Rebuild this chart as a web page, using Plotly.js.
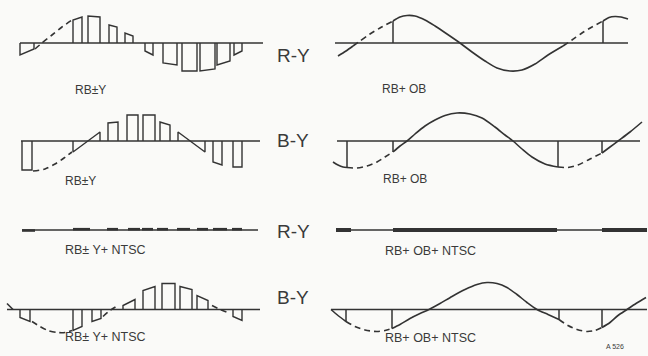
<!DOCTYPE html>
<html><head><meta charset="utf-8">
<script src="https://cdn.plot.ly/plotly-3.0.1.min.js"></script>
<style>html,body{margin:0;padding:0;background:#fafaf8;}#chart{width:648px;height:356px;}</style>
</head><body><div id="chart"></div>
<script>
// ---------- Row 1 left : R-Y, RB±Y ----------
var p1Base = [20, 263];
var p1BarStart = [20, 73, 88, 109, 125, 145, 163, 182, 200, 217, 234];
var p1BarEnd   = [34, 82, 100, 117, 133, 153, 177, 197, 215, 230, 242];
var p1BarLeft  = [-12, 23, 27, 18, 10, -8, -20, -28, -28, -22, -12];
var p1BarRight = [-6, 26, 26, 16, 7, -12, -22, -28, -26, -18, -8];
var p1DashX = [35, 42, 52, 62, 72];
var p1DashY = [-6, 0, 8, 16, 23];

// ---------- Row 1 right : R-Y, RB+OB ----------
var p2Base = [335, 628];
var p2SolidAX = [338, 346, 353];
var p2SolidAY = [-13, -8, -3];
var p2DashAX = [353, 360, 370, 380, 393];
var p2DashAY = [-3, 2, 9, 15, 22];
var p2SolidBX = [393, 400, 407, 415, 425, 435, 447, 460, 472, 485, 497, 510, 522, 535, 548, 563];
var p2SolidBY = [22, 26, 27.5, 27, 23, 17, 9, 0, -9, -18, -25, -28, -27, -21, -12, -3];
var p2DashBX = [563, 572, 582, 592, 603];
var p2DashBY = [-3, 3, 10, 16, 22];
var p2SolidCX = [603, 609, 615, 621, 628];
var p2SolidCY = [22, 25.5, 26.5, 26, 24];
var p2VertX = [393, 603];
var p2VertY = [22, 22];

// ---------- Row 2 left : B-Y, RB±Y ----------
var p3Base = [21, 260];
var p3BarStart = [22, 73, 108, 127, 143, 160, 178, 213, 233];
var p3BarEnd   = [32, 100, 118, 138, 155, 170, 205, 222, 242];
var p3BarLeft  = [-29, -11, 18, 26, 26, 19, 9, -21, -26];
var p3BarRight = [-29, 9, 19, 26, 26, 16, -11, -24, -26];
var p3DashX = [33, 45, 55, 64, 72];
var p3DashY = [-30, -28, -23, -17, -11];

// ---------- Row 2 right : B-Y, RB+OB ----------
var p4Base = [337, 640];
var p4SolidAX = [333, 338, 343, 347];
var p4SolidAY = [-21, -24, -26, -26.5];
var p4DashAX = [347, 357, 367, 377, 385, 393];
var p4DashAY = [-26.5, -27, -25, -21, -16, -11];
var p4SolidBX = [393, 400, 407, 415, 425, 435, 445, 457, 470, 482, 495, 505, 513, 522, 532, 545, 558];
var p4SolidBY = [-11, -5, 0, 7, 15, 21, 25.5, 28, 27, 23, 14, 6, 0, -8, -16, -23, -26];
var p4DashBX = [558, 568, 578, 590, 602];
var p4DashBY = [-26, -26.5, -24, -18, -12];
var p4SolidCX = [602, 610, 618, 630, 642];
var p4SolidCY = [-12, -6, 0, 9, 19];
var p4VertX = [347, 393, 558, 602];
var p4VertY = [-26.5, -11, -26, -12];

// ---------- Row 3 left : R-Y, RB±Y+NTSC ----------
var p5Base = [22, 258];
var p5BlobStart = [22, 73, 107, 128, 142, 157, 177, 197, 213, 232];
var p5BlobEnd   = [35, 90, 118, 140, 153, 168, 190, 208, 227, 242];
var p5BlobLevel = [-0.5, 0.8, 0.8, 0.8, 0.8, 0.8, 0.8, 0.8, 0.8, 0.8];

// ---------- Row 3 right : R-Y, RB+OB+NTSC ----------
var p6Base = [336, 647];
var p6ThickStart = [336, 393, 602];
var p6ThickEnd   = [351, 557, 647];

// ---------- Row 4 left : B-Y, RB±Y+NTSC ----------
var p7Base = [7, 260];
var p7LeadX = [7, 13];
var p7LeadY = [6, 0];
var p7BarStart = [20, 73, 92, 123, 143, 162, 180, 197, 233];
var p7BarEnd   = [30, 82, 101, 135, 155, 175, 192, 208, 242];
var p7BarLeft  = [-8, -21, -12, 4, 19, 26, 23, 14, -7];
var p7BarRight = [-12, -17, -9, 10, 23, 26, 20, 9, -11];
var p7DashAX = [32, 40, 48, 57, 65, 72];
var p7DashAY = [-12, -17, -21, -23, -23, -21];
var p7DashBX = [103, 110, 118];
var p7DashBY = [-7, -1, 4];
var p7DashCX = [212, 220, 228];
var p7DashCY = [4, 0, -3];

// ---------- Row 4 right : B-Y, RB+OB+NTSC ----------
var p8Base = [331, 647];
var p8SolidAX = [331, 338, 346];
var p8SolidAY = [0, -6, -12];
var p8DashAX = [346, 355, 365, 377, 385, 392];
var p8DashAY = [-12, -17, -20.5, -22, -21, -19];
var p8SolidBX = [392, 400, 410, 420, 429, 440, 452, 465, 477, 487, 497, 507, 517, 527, 537, 548, 559];
var p8SolidBY = [-19, -15, -9, -4, 0, 6, 13, 20, 25, 27, 26, 22, 15, 7, 0, -5, -10];
var p8DashBX = [559, 568, 577, 587, 595, 602];
var p8DashBY = [-10, -16, -20, -22, -21, -18];
var p8SolidCX = [602, 610, 618, 627, 636, 646];
var p8SolidCY = [-18, -13, -6, 0, 6, 12];
var p8VertX = [346, 392, 559, 602];
var p8VertY = [-12, -19, -10, -18];

// ---------- Labels ----------
var signalLabels = ['R-Y', 'B-Y', 'R-Y', 'B-Y'];
var leftLabels  = ['RB±Y', 'RB±Y', 'RB± Y+ NTSC', 'RB± Y+ NTSC'];
var rightLabels = ['RB+ OB', 'RB+ OB', 'RB+ OB+ NTSC', 'RB+ OB+ NTSC'];
var figureCode = 'A 526';

// ---------- Drawing ----------
var INK = '#333333';
var W = 648, H = 356;
var rowBase = [43, 141, 230, 309.5];
var HALF = 40;
var traces = [];

function ax(row){ return row === 0 ? 'y' : 'y' + (row + 1); }
function baseline(r, row, w){
  traces.push({x:[r[0], r[1]], y:[0,0], mode:'lines', yaxis:ax(row), line:{color:INK, width:w||1.4}, hoverinfo:'skip'});
}
function curve(xs, ys, row, dashed){
  traces.push({x:xs, y:ys, mode:'lines', yaxis:ax(row),
    line:{color:INK, width:1.6, shape:'spline', smoothing:0.8, dash: dashed ? '6px,4px' : 'solid'}, hoverinfo:'skip'});
}
function bars(x0, x1, v0, v1, row){
  var x = [], y = [];
  for (var i = 0; i < x0.length; i++){ x.push(x0[i], x0[i], x1[i], x1[i], null); y.push(0, v0[i], v1[i], 0, null); }
  traces.push({x:x, y:y, mode:'lines', yaxis:ax(row), line:{color:INK, width:1.4}, hoverinfo:'skip'});
}
function verts(xs, vs, row){
  var x = [], y = [];
  for (var i = 0; i < xs.length; i++){ x.push(xs[i], xs[i], null); y.push(0, vs[i], null); }
  traces.push({x:x, y:y, mode:'lines', yaxis:ax(row), line:{color:INK, width:1.5}, hoverinfo:'skip'});
}
function thick(x0, x1, lv, row, w){
  var x = [], y = [];
  for (var i = 0; i < x0.length; i++){ x.push(x0[i], x1[i], null); var l = lv ? lv[i] : 0; y.push(l, l, null); }
  traces.push({x:x, y:y, mode:'lines', yaxis:ax(row), line:{color:INK, width:w}, hoverinfo:'skip'});
}

// row 1
baseline(p1Base, 0); bars(p1BarStart, p1BarEnd, p1BarLeft, p1BarRight, 0); curve(p1DashX, p1DashY, 0, true);
baseline(p2Base, 0); curve(p2SolidAX, p2SolidAY, 0); curve(p2DashAX, p2DashAY, 0, true);
curve(p2SolidBX, p2SolidBY, 0); curve(p2DashBX, p2DashBY, 0, true); curve(p2SolidCX, p2SolidCY, 0); verts(p2VertX, p2VertY, 0);
// row 2
baseline(p3Base, 1); bars(p3BarStart, p3BarEnd, p3BarLeft, p3BarRight, 1); curve(p3DashX, p3DashY, 1, true);
baseline(p4Base, 1); curve(p4SolidAX, p4SolidAY, 1); curve(p4DashAX, p4DashAY, 1, true);
curve(p4SolidBX, p4SolidBY, 1); curve(p4DashBX, p4DashBY, 1, true); curve(p4SolidCX, p4SolidCY, 1); verts(p4VertX, p4VertY, 1);
// row 3
baseline(p5Base, 2); thick(p5BlobStart, p5BlobEnd, p5BlobLevel, 2, 2.6);
baseline(p6Base, 2, 1.3); thick(p6ThickStart, p6ThickEnd, null, 2, 4);
// row 4
baseline(p7Base, 3); curve(p7LeadX, p7LeadY, 3); bars(p7BarStart, p7BarEnd, p7BarLeft, p7BarRight, 3);
curve(p7DashAX, p7DashAY, 3, true); curve(p7DashBX, p7DashBY, 3, true); curve(p7DashCX, p7DashCY, 3, true);
baseline(p8Base, 3); curve(p8SolidAX, p8SolidAY, 3); curve(p8DashAX, p8DashAY, 3, true);
curve(p8SolidBX, p8SolidBY, 3); curve(p8DashBX, p8DashBY, 3, true); curve(p8SolidCX, p8SolidCY, 3); verts(p8VertX, p8VertY, 3);

var layout = {
  width: W, height: H, margin:{l:0, r:0, t:0, b:0},
  paper_bgcolor:'#fafaf8', plot_bgcolor:'#fafaf8', showlegend:false,
  xaxis:{range:[0, W], visible:false, fixedrange:true},
  annotations: []
};
rowBase.forEach(function(b, i){
  var key = i === 0 ? 'yaxis' : 'yaxis' + (i + 1);
  layout[key] = {domain:[1 - (b + HALF) / H, 1 - (b - HALF) / H], range:[-HALF, HALF], visible:false, fixedrange:true};
  if (i > 0) layout[key].anchor = 'x';
});
var font = 'Liberation Sans, Arial, sans-serif';
var sigY = [43, 140.5, 231, 310];
var leftX = [90, 80, 105, 105], leftY = [81, 181, 259, 345.5];
var rightX = [404, 405, 430, 430], rightY = [80, 179, 260, 347];
var smallSize = [12, 12, 12.5, 12.5];
for (var i = 0; i < 4; i++){
  layout.annotations.push({text:signalLabels[i], xref:'x', yref:'paper', x:293, y:1 - sigY[i] / H, showarrow:false, font:{family:font, size:19, color:'#3a3a3a'}});
  layout.annotations.push({text:leftLabels[i], xref:'x', yref:'paper', x:leftX[i], y:1 - leftY[i] / H, showarrow:false, font:{family:font, size:smallSize[i], color:'#3a3a3a'}});
  layout.annotations.push({text:rightLabels[i], xref:'x', yref:'paper', x:rightX[i], y:1 - rightY[i] / H, showarrow:false, font:{family:font, size:smallSize[i], color:'#3a3a3a'}});
}
layout.annotations.push({text:figureCode, xref:'x', yref:'paper', x:615, y:1 - 352 / H, showarrow:false, font:{family:font, size:7, color:'#3a3a3a'}});

Plotly.newPlot('chart', traces, layout, {staticPlot:true, displayModeBar:false});
</script></body></html>
